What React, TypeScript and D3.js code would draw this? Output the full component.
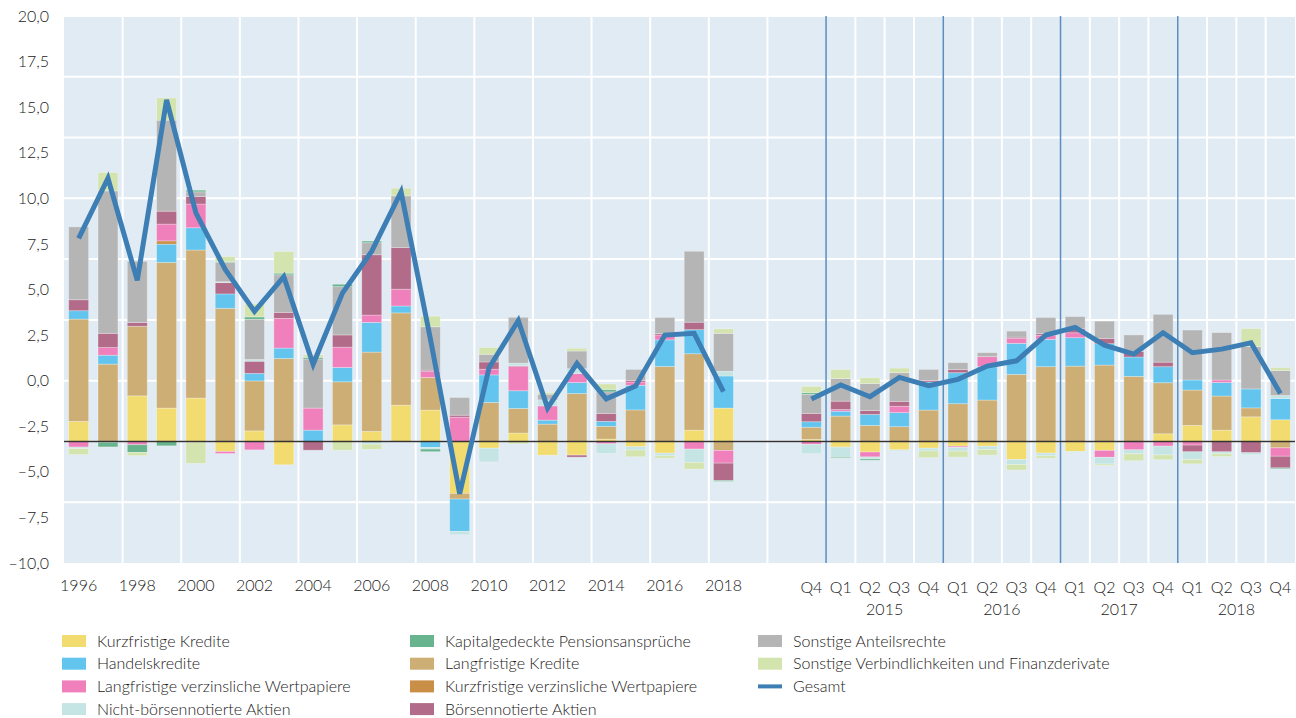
import { useEffect, useRef } from 'react'
import * as d3 from 'd3'

// categories: 23 years, 2 empty slots, 17 quarters (Q4 2014 .. Q4 2018)
const YEARS = d3.range(1996, 2019).map(String)
const GAPS = ['gap1', 'gap2']
const QUARTERS = [
  'Q4 2014',
  'Q1 2015', 'Q2 2015', 'Q3 2015', 'Q4 2015',
  'Q1 2016', 'Q2 2016', 'Q3 2016', 'Q4 2016',
  'Q1 2017', 'Q2 2017', 'Q3 2017', 'Q4 2017',
  'Q1 2018', 'Q2 2018', 'Q3 2018', 'Q4 2018',
]
const QUARTER_GROUPS = ['2015', '2016', '2017', '2018']

const SERIES = [
  'Kurzfristige Kredite',
  'Langfristige Kredite',
  'Handelskredite',
  'Kurzfristige verzinsliche Wertpapiere',
  'Langfristige verzinsliche Wertpapiere',
  'Börsennotierte Aktien',
  'Nicht-börsennotierte Aktien',
  'Sonstige Anteilsrechte',
  'Kapitalgedeckte Pensionsansprüche',
  'Sonstige Verbindlichkeiten und Finanzderivate',
]

const COLORS: Record<string, string> = {
  'Kurzfristige Kredite': '#f3dc6f',
  'Langfristige Kredite': '#cdae74',
  'Handelskredite': '#63c5ee',
  'Kurzfristige verzinsliche Wertpapiere': '#c98f47',
  'Langfristige verzinsliche Wertpapiere': '#f080bb',
  'Börsennotierte Aktien': '#b26c89',
  'Nicht-börsennotierte Aktien': '#c5e4e4',
  'Sonstige Anteilsrechte': '#b5b5b5',
  'Kapitalgedeckte Pensionsansprüche': '#68b48e',
  'Sonstige Verbindlichkeiten und Finanzderivate': '#d4e4ae',
}
const LINE_COLOR = '#3d7fb5'

// bars are stacked from this level of the axis
const BAR_BASE = -10 / 3

// one value per bar: 23 years then 17 quarters, in SERIES order
const KURZ_KREDITE = [1.10, 0, 2.50, 1.83, 2.38, -0.55, 0.58, -1.28, 0, 0.91, 0.55, 1.99, 1.72, -2.85, -0.37, 0.46, -0.75, -0.75, 0.13, -0.29, -0.64, 0.62, 1.83,
  0.11, -0.31, -0.58, -0.46, -0.37, -0.26, -0.26, -0.99, -0.64, -0.55, -0.49, 0, 0.42, 0.88, 0.62, 1.35, 1.19]
const LANG_KREDITE = [5.61, 4.24, 3.82, 7.99, 8.12, 7.30, 2.74, 4.55, 0, 2.36, 4.35, 5.06, 1.79, -0.31, 2.14, 1.35, 0.95, 2.63, 0.70, 1.73, 4.11, 4.19, -0.49,
  0.67, 1.39, 0.88, 0.81, 1.72, 2.07, 2.27, 3.68, 4.10, 4.13, 4.19, 3.57, 2.80, 1.94, 1.87, 0.49, -0.35]
const HANDEL = [0.46, 0.49, 0, 1.00, 1.22, 0.79, 0.41, 0.57, 0.62, 0.79, 1.63, 0.38, -0.33, -1.77, 1.51, 0.97, 0.22, 0.60, 0.27, 1.35, 1.46, 1.32, 1.76,
  0.30, 0.27, 0.60, 0.77, 1.54, 1.70, 1.83, 1.70, 1.50, 1.56, 1.17, 1.06, 0.88, 0.55, 0.74, 1.04, 1.17]
const KURZ_WP = [0, 0, 0, 0.18, -0.05, 0, 0, 0, 0, 0, 0, 0, 0, 0, 0, 0, 0, 0, 0, 0, 0, 0, 0,
  0, 0, 0, 0, 0, 0, 0, 0, 0, 0, 0, 0, 0, 0, 0, 0, 0]
const LANG_WP = [-0.31, 0.42, -0.18, 0.92, 1.30, -0.11, -0.46, 1.63, 1.21, 1.11, 0.40, 0.92, 0.33, 1.33, 0.31, 1.33, 0.78, 0.49, -0.13, 0.18, 0.27, -0.42, -0.70,
  -0.16, 0.09, -0.27, 0.35, 0, -0.07, 0.55, 0.27, 0.22, 0.27, -0.38, -0.46, -0.26, -0.20, 0.14, 0, -0.46]
const BOERSE = [0.60, 0.78, 0.20, 0.71, 0.42, 0.62, 0.67, 0.33, -0.48, 0.67, 3.31, 2.29, 0.07, 0.11, 0.40, 0.05, 0, -0.11, 0.44, 0.09, 0.08, 0.41, -0.95,
  0.46, 0.46, 0.22, 0.27, 0.09, 0.18, 0, 0.07, 0.09, 0.22, 0.29, 0.30, 0.25, -0.37, -0.57, -0.62, -0.64]
const NICHT_BOERSE = [-0.08, -0.05, 0, 0, 0, 0.05, 0.09, 0, 0, 0, -0.15, 0, -0.09, -0.19, -0.75, 0.13, 0.33, 0.27, -0.53, -0.18, -0.15, -0.73, 0.26,
  -0.51, -0.53, -0.11, -0.06, -0.15, -0.20, -0.18, -0.27, -0.15, -0.06, -0.37, -0.22, -0.48, -0.42, -0.11, -0.11, 0.16]
const ANTEILE = [4.00, 7.81, 3.36, 4.99, 0.25, 1.06, 2.21, 2.06, 2.69, 2.65, 0.66, 2.83, 2.38, 0.97, 0.42, 2.52, 0.31, 0.97, 1.18, 0.60, 0.88, 3.89, 2.08,
  1.04, 1.24, 1.48, 1.57, 0.60, 0.37, 0.22, 0.33, 0.89, 0.67, 0.95, 0.91, 2.62, 2.74, 2.60, 2.32, 1.37]
const PENSION = [0, -0.25, -0.42, -0.24, 0.09, 0.05, 0.13, 0.09, 0.09, 0.13, 0.09, 0, -0.14, 0, 0, 0, 0, 0, 0.13, 0, 0, 0, -0.05,
  0.09, -0.05, -0.07, 0, 0, 0, 0, 0, 0, 0, 0, 0, 0, 0, 0, 0, -0.05]
const SONSTIGE = [-0.33, 1.01, -0.18, 1.22, -1.15, 0.27, 0.70, 1.19, 0.14, -0.48, -0.28, 0.42, 0.58, 0, 0.37, -0.13, 0.09, 0.15, 0.30, -0.37, -0.13, -0.37, 0.24,
  0.35, 0.49, 0.31, 0.25, -0.37, -0.33, -0.31, -0.31, -0.13, 0, -0.07, -0.38, -0.26, -0.24, -0.15, 0.99, 0.15]

const SERIES_VALUES = [KURZ_KREDITE, LANG_KREDITE, HANDEL, KURZ_WP, LANG_WP, BOERSE, NICHT_BOERSE, ANTEILE, PENSION, SONSTIGE]

const YEAR_TOTAL = [7.8, 11.1, 5.5, 15.4, 9.2, 6.1, 3.8, 5.7, 0.9, 4.8, 7.1, 10.35, 2.3, -6.2, 0.7, 3.3, -1.5, 0.95, -1.0, -0.3, 2.5, 2.6, -0.6]
const QUARTER_TOTAL = [-1.0, -0.24, -0.88, 0.18, -0.28, 0.07, 0.8, 1.09, 2.5, 2.92, 1.95, 1.46, 2.63, 1.53, 1.73, 2.08, -0.7]

const Y_TICKS = [20, 17.5, 15, 12.5, 10, 7.5, 5, 2.5, 0, -2.5, -5, -7.5, -10]

const LEGEND_COLS = [
  ['Kurzfristige Kredite', 'Handelskredite', 'Langfristige verzinsliche Wertpapiere', 'Nicht-börsennotierte Aktien'],
  ['Kapitalgedeckte Pensionsansprüche', 'Langfristige Kredite', 'Kurzfristige verzinsliche Wertpapiere', 'Börsennotierte Aktien'],
  ['Sonstige Anteilsrechte', 'Sonstige Verbindlichkeiten und Finanzderivate', 'Gesamt'],
]

const FONT = "Lato, 'Open Sans', sans-serif"
const TEXT = '#1a1a1a'

export default function App() {
  const svgRef = useRef<SVGSVGElement>(null)

  useEffect(() => {
    if (!svgRef.current) return
    const svg = d3.select(svgRef.current)
    svg.selectAll('*').remove()

    const W = 1296, H = 718
    const left = 64, right = 1295, top = 16, bottom = 563
    svg.attr('width', W).attr('height', H)

    const cats = [...YEARS, ...GAPS, ...QUARTERS]
    const barCats = [...YEARS, ...QUARTERS]

    const x = d3.scaleBand<string>().domain(cats).range([left, right])
      .paddingInner(0.32).paddingOuter(0.16)
    const step = x.step()
    const slot = (i: number) => left + i * step

    const y = d3.scaleLinear().domain([-10, 20]).range([bottom, top])

    // plot background
    svg.append('rect').attr('x', left).attr('y', top)
      .attr('width', right - left).attr('height', bottom - top).attr('fill', '#e1ebf4')

    // horizontal grid (9 bands)
    const gridY = d3.range(0, 10).map(k => -10 + k * 10 / 3)
    svg.append('g').selectAll('line').data(gridY.slice(1)).join('line')
      .attr('x1', left).attr('x2', right)
      .attr('y1', d => y(d)).attr('y2', d => y(d))
      .attr('stroke', '#fff').attr('stroke-width', 2)

    // vertical grid
    const vWhite: number[] = []
    for (let i = 2; i <= 24; i += 2) vWhite.push(i)
    for (let i = 27; i <= 41; i++) if ((i - 26) % 4 !== 0) vWhite.push(i)
    svg.append('g').selectAll('line').data(vWhite).join('line')
      .attr('x1', d => slot(d)).attr('x2', d => slot(d))
      .attr('y1', top).attr('y2', bottom)
      .attr('stroke', '#fff').attr('stroke-width', 2)

    // year separators in the quarterly part
    svg.append('g').selectAll('line').data([26, 30, 34, 38]).join('line')
      .attr('x1', d => slot(d)).attr('x2', d => slot(d))
      .attr('y1', top).attr('y2', bottom)
      .attr('stroke', '#5b8fc0').attr('stroke-width', 1.5)

    // stacked bars
    const rows = barCats.map((c, i) => {
      const r: Record<string, number | string> = { cat: c }
      SERIES.forEach((s, k) => { r[s] = SERIES_VALUES[k][i] })
      return r
    })
    const stack = d3.stack<any>().keys(SERIES).offset(d3.stackOffsetDiverging)(rows)

    const bars = svg.append('g')
    stack.forEach(layer => {
      bars.append('g').attr('fill', COLORS[layer.key])
        .selectAll('rect').data(layer.filter(d => d[1] !== d[0])).join('rect')
        .attr('x', d => x(d.data.cat as string)!)
        .attr('width', x.bandwidth())
        .attr('y', d => y(BAR_BASE + Math.max(d[0], d[1])))
        .attr('height', d => Math.abs(y(BAR_BASE + d[0]) - y(BAR_BASE + d[1])))
        .attr('stroke', 'rgba(255,255,255,0.35)').attr('stroke-width', 0.8)
    })

    // base line
    svg.append('line')
      .attr('x1', left).attr('x2', right)
      .attr('y1', y(BAR_BASE)).attr('y2', y(BAR_BASE))
      .attr('stroke', '#333').attr('stroke-width', 1.5)

    // total lines
    const line = d3.line<[string, number]>()
      .x(d => x(d[0])! + x.bandwidth() / 2)
      .y(d => y(d[1]))
    const drawLine = (pts: [string, number][]) =>
      svg.append('path').datum(pts).attr('d', line)
        .attr('fill', 'none').attr('stroke', LINE_COLOR)
        .attr('stroke-width', 5).attr('stroke-linejoin', 'miter')
    drawLine(YEARS.map((c, i) => [c, YEAR_TOTAL[i]]))
    drawLine(QUARTERS.map((c, i) => [c, QUARTER_TOTAL[i]]))

    // y axis
    const fmt = (v: number) => (v < 0 ? '–' : '') + Math.abs(v).toFixed(1).replace('.', ',')
    svg.append('g').attr('transform', `translate(${left},0)`)
      .call(d3.axisLeft(y).tickValues(Y_TICKS).tickSize(0).tickPadding(15).tickFormat(d => fmt(d as number)))
      .call(sel => {
        sel.select('.domain').remove()
        sel.selectAll('text').attr('font-size', 16).attr('fill', TEXT)
          .attr('font-family', FONT).attr('font-weight', 300)
      })

    // x labels
    const labels = svg.append('g').attr('font-family', FONT).attr('font-size', 16)
      .attr('font-weight', 300).attr('fill', TEXT).attr('text-anchor', 'middle')
    labels.selectAll('text.yr').data(YEARS.filter((_, i) => i % 2 === 0)).join('text')
      .attr('class', 'yr')
      .attr('x', d => x(d)! + x.bandwidth() / 2).attr('y', 591)
      .text(d => d)
    labels.selectAll('text.q').data(QUARTERS).join('text')
      .attr('class', 'q')
      .attr('x', d => x(d)! + x.bandwidth() / 2).attr('y', 593)
      .text(d => d.split(' ')[0])
    labels.selectAll('text.g').data(QUARTER_GROUPS).join('text')
      .attr('class', 'g')
      .attr('x', d => {
        const a = x(`Q1 ${d}`)!, b = x(`Q4 ${d}`)!
        return (a + b + x.bandwidth()) / 2
      })
      .attr('y', 615)
      .text(d => d)

    // legend
    const colX = [62, 410, 758]
    const legend = svg.append('g').attr('font-family', FONT).attr('font-size', 16)
      .attr('font-weight', 300).attr('fill', TEXT)
    LEGEND_COLS.forEach((col, ci) => {
      col.forEach((name, ri) => {
        const cy = 641 + ri * 22.7
        if (name === 'Gesamt') {
          legend.append('rect').attr('x', colX[ci]).attr('y', cy - 2)
            .attr('width', 24).attr('height', 4).attr('fill', LINE_COLOR)
        } else {
          legend.append('rect').attr('x', colX[ci]).attr('y', cy - 6)
            .attr('width', 24).attr('height', 12).attr('fill', COLORS[name])
        }
        legend.append('text').attr('x', colX[ci] + 35).attr('y', cy + 5.5).text(name)
      })
    })
  }, [])

  return (
    <div style={{ position: 'absolute', left: 0, top: 0 }}>
      <svg ref={svgRef} />
    </div>
  )
}
